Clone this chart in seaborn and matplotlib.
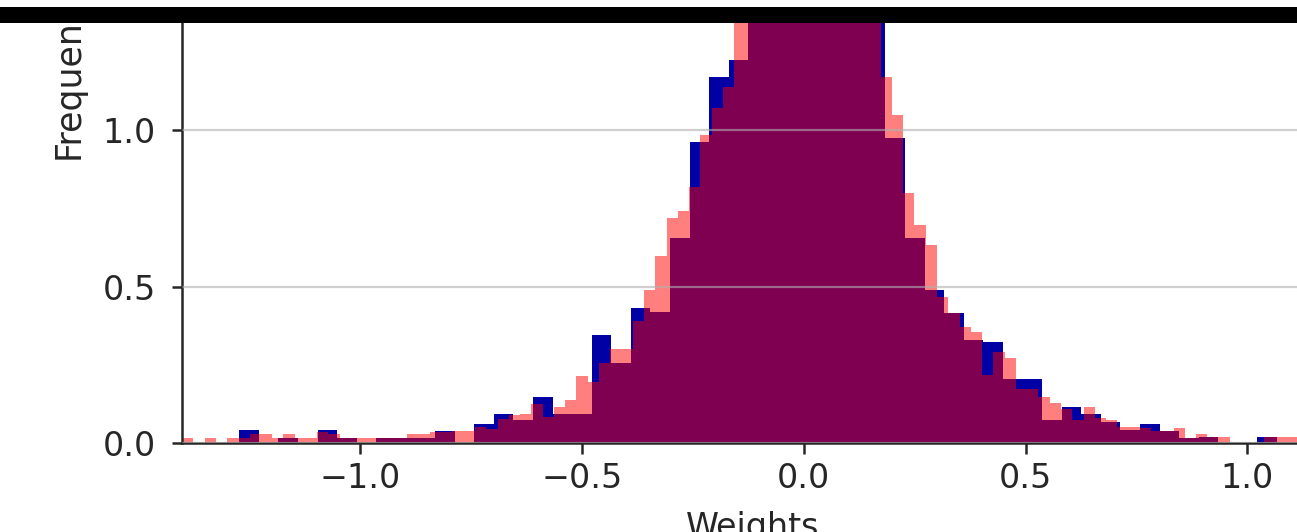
import numpy as np
import matplotlib
matplotlib.use("Agg")
import matplotlib.pyplot as plt
from matplotlib.patches import Rectangle
import seaborn as sns

# Bin layout for the two weight histograms
blue_start, blue_width, blue_nbins = -1.2728, 0.04415, 53
red_start, red_width, red_nbins = -1.4020, 0.02541, 100

# Normalised bin heights (frequency density)
blue_heights = [
    0.042, 0.000, 0.018, 0.000, 0.042, 0.018, 0.000, 0.018, 0.018, 0.018,
    0.040, 0.000, 0.061, 0.094, 0.075, 0.149, 0.094, 0.094, 0.346, 0.256,
    0.433, 0.420, 0.655, 0.960, 1.170, 1.223, 1.520, 1.800, 2.000, 2.050,
    1.920, 1.700, 1.420, 0.974, 0.655, 0.489, 0.415, 0.330, 0.324, 0.205,
    0.205, 0.075, 0.117, 0.094, 0.067, 0.043, 0.062, 0.040, 0.017, 0.020,
    0.000, 0.000, 0.020,
]
red_heights = [
    0.018, 0.000, 0.018, 0.000, 0.018, 0.018, 0.029, 0.029, 0.018, 0.029,
    0.018, 0.018, 0.036, 0.029, 0.018, 0.018, 0.018, 0.018, 0.018, 0.018,
    0.029, 0.029, 0.038, 0.038, 0.040, 0.040, 0.051, 0.045, 0.077, 0.090,
    0.094, 0.127, 0.085, 0.117, 0.139, 0.215, 0.195, 0.256, 0.300, 0.300,
    0.390, 0.490, 0.598, 0.720, 0.740, 0.818, 0.984, 1.070, 1.138, 1.400,
    1.520, 1.650, 1.780, 1.900, 2.000, 2.060, 2.060, 2.000, 1.880, 1.740,
    1.580, 1.420, 1.170, 1.048, 0.798, 0.697, 0.633, 0.467, 0.415, 0.370,
    0.357, 0.218, 0.293, 0.272, 0.174, 0.174, 0.149, 0.128, 0.110, 0.075,
    0.117, 0.082, 0.075, 0.054, 0.054, 0.050, 0.040, 0.040, 0.050, 0.017,
    0.029, 0.020, 0.020, 0.000, 0.000, 0.000, 0.020, 0.020, 0.020, 0.020,
]

x_ticks = [-1.0, -0.5, 0.0, 0.5, 1.0]
y_ticks = [0.0, 0.5, 1.0, 1.5, 2.0]

blue_edges = np.linspace(blue_start, blue_start + blue_nbins * blue_width, blue_nbins + 1)
red_edges = np.linspace(red_start, red_start + red_nbins * red_width, red_nbins + 1)
blue_centers = 0.5 * (blue_edges[:-1] + blue_edges[1:])
red_centers = 0.5 * (red_edges[:-1] + red_edges[1:])

sns.set_theme(style="white")
plt.rcParams["font.family"] = ["DejaVu Sans"]

fig = plt.figure(figsize=(12.97, 5.32), dpi=100)
ax = fig.add_axes([0.1403, 0.1664, 0.8805, 1.3466])

sns.histplot(x=blue_centers, weights=blue_heights, bins=blue_edges.tolist(),
             color="#0000a4", alpha=1.0, linewidth=0, ax=ax)
sns.histplot(x=red_centers, weights=red_heights, bins=red_edges.tolist(),
             color="#ff0000", alpha=0.5, linewidth=0, ax=ax)

ax.set_xlim(-1.402, 1.173)
ax.set_ylim(0, 2.285)
ax.set_xticks(x_ticks)
ax.set_yticks(y_ticks)

ax.yaxis.grid(True, color="#b0b0b0", alpha=0.6, linewidth=1.6)
ax.xaxis.grid(False)
ax.set_axisbelow(False)

for side in ("left", "bottom"):
    ax.spines[side].set_color("#262626")
    ax.spines[side].set_linewidth(1.8)
for side in ("right", "top"):
    ax.spines[side].set_visible(False)

ax.tick_params(axis="x", bottom=True, direction="out", length=8, width=1.8,
               color="#262626", labelsize=24, pad=5, labelcolor="#262626")
ax.tick_params(axis="y", left=True, direction="out", length=7, width=1.8,
               color="#262626", labelsize=24, pad=12, labelcolor="#262626")

ax.set_xlabel("Weights", fontsize=24, labelpad=12, color="#262626")
ax.set_ylabel("Frequency", fontsize=25, color="#262626")
ax.yaxis.set_label_coords(-0.0840, 0.522)

# Dark band across the top of the figure, blank margin above it
fig.add_artist(Rectangle((0, 0.9568), 1, 0.0301, transform=fig.transFigure,
                         facecolor="black", edgecolor="none", zorder=10))
fig.add_artist(Rectangle((0, 0.9869), 1, 0.0131, transform=fig.transFigure,
                         facecolor="white", edgecolor="none", zorder=10))

fig.savefig("out.png", dpi=100)
